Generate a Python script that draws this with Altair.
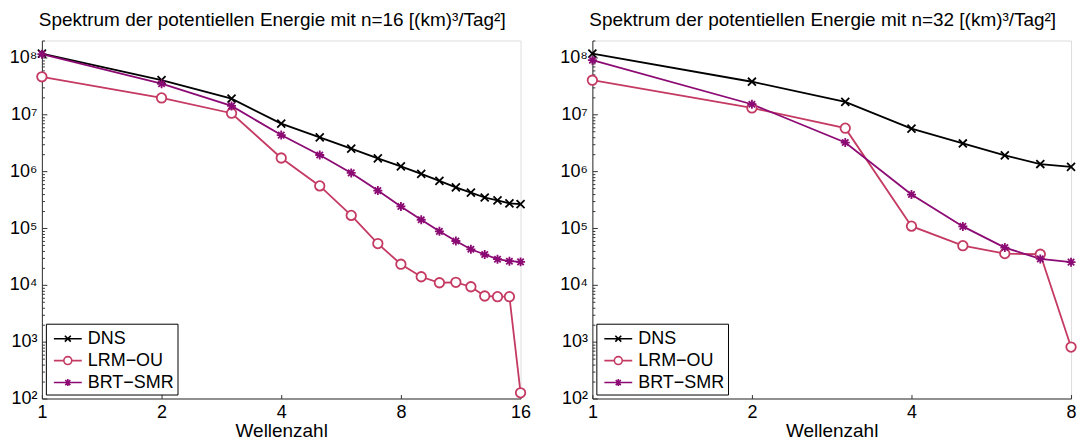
import altair as alt
import pandas as pd

# ---------------- data ----------------
series_names = ["DNS", "LRM−OU", "BRT−SMR"]
series_colors = ["#000000", "#c43a62", "#8c0a73"]

k16 = list(range(1, 17))
dns16 = [1.18e8, 4.0e7, 1.9e7, 6.9e6, 3.93e6, 2.5e6, 1.68e6, 1.22e6,
         8.97e5, 6.76e5, 5.2e5, 4.2e5, 3.45e5, 3.06e5, 2.71e5, 2.63e5]
lrm16 = [4.6e7, 1.95e7, 1.05e7, 1.71e6, 5.52e5, 1.67e5, 5.33e4, 2.31e4,
         1.39e4, 1.09e4, 1.11e4, 9.27e3, 6.37e3, 6.2e3, 6.2e3, 1.26e2]
brt16 = [1.15e8, 3.47e7, 1.41e7, 4.33e6, 1.93e6, 9.34e5, 4.57e5, 2.4e5,
         1.40e5, 8.75e4, 5.92e4, 4.23e4, 3.42e4, 2.83e4, 2.61e4, 2.54e4]

k32 = list(range(1, 9))
dns32 = [1.18e8, 3.76e7, 1.66e7, 5.64e6, 3.08e6, 1.90e6, 1.34e6, 1.19e6]
lrm32 = [4.0e7, 1.30e7, 5.73e6, 1.08e5, 4.9e4, 3.55e4, 3.46e4, 8.04e2]
brt32 = [9.0e7, 1.51e7, 3.2e6, 3.89e5, 1.07e5, 4.54e4, 2.86e4, 2.51e4]

title16 = "Spektrum der potentiellen Energie mit n=16 [(km)³/Tag²]"
title32 = "Spektrum der potentiellen Energie mit n=32 [(km)³/Tag²]"
xticks16 = [1, 2, 4, 8, 16]
xticks32 = [1, 2, 4, 8]
ymajor = [1e2, 1e3, 1e4, 1e5, 1e6, 1e7, 1e8]
yminor = [m * 10 ** e for e in range(2, 9) for m in range(2, 10) if m * 10 ** e <= 2e8]

# marker shapes (unit square, scaled by the library)
marker_paths = [
    "M-0.8,-0.8L0.8,0.8M-0.8,0.8L0.8,-0.8",
    "M-0.95,0A0.95,0.95,0,1,0,0.95,0A0.95,0.95,0,1,0,-0.95,0Z",
    "M0,-0.9L0,0.9M-0.9,0L0.9,0M-0.64,-0.64L0.64,0.64M-0.64,0.64L0.64,-0.64",
]
legend_paths = [
    "M-1.27,0L1.27,0M-0.27,-0.27L0.27,0.27M-0.27,0.27L0.27,-0.27",
    "M-1.27,0L-0.36,0M0.36,0L1.27,0M-0.36,0A0.36,0.36,0,1,0,0.36,0A0.36,0.36,0,1,0,-0.36,0",
    "M-1.27,0L1.27,0M0,-0.32L0,0.32M-0.32,0L0.32,0M-0.23,-0.23L0.23,0.23M-0.23,0.23L0.23,-0.23",
]

FONT = "Liberation Sans"
AXC = "#333333"
sup_expr = ("'10' + ['⁰','¹','²','³','⁴','⁵','⁶','⁷','⁸','⁹']"
            "[round(log(datum.value)/LN10)]")
legend_stroke_expr = ("datum.value == '%s' ? '%s' : datum.value == '%s' ? '%s' : '%s'"
                      % (series_names[0], series_colors[0], series_names[1],
                         series_colors[1], series_colors[2]))


def panel(ks, dns, lrm, brt, title, xmax, xticks):
    rows = []
    for i, (name, vals) in enumerate(zip(series_names, [dns, lrm, brt])):
        for k, v in zip(ks, vals):
            rows.append({"k": k, "E": v, "series": name, "s": i})
    df = pd.DataFrame(rows)

    xscale = alt.Scale(type="log", base=2, domain=[1, xmax], nice=False)
    yscale = alt.Scale(type="log", domain=[100, 2e8], nice=False)
    cscale = alt.Scale(domain=series_names, range=series_colors)

    base = alt.Chart(df)

    lines = base.mark_line(strokeWidth=1.8).encode(
        x=alt.X("k:Q", scale=xscale,
                axis=alt.Axis(orient="bottom", values=xticks, format="d",
                              title="Wellenzahl", ticks=False, grid=False,
                              domainColor=AXC, labelFontSize=18, labelColor="black",
                              labelPadding=5, titleFontSize=19, titleFontWeight="normal",
                              titleColor="black", titlePadding=0, labelFont=FONT,
                              titleFont=FONT, labelFlush=False)),
        y=alt.Y("E:Q", scale=yscale,
                axis=alt.Axis(orient="left", values=ymajor, labelExpr=sup_expr,
                              title=None, ticks=False, grid=False, domainColor=AXC,
                              labelFontSize=18, labelColor="black", labelPadding=5,
                              labelFont=FONT, labelFlush=False)),
        color=alt.Color("series:N", scale=cscale, legend=None),
        order="k:Q",
    )

    points = base.mark_point(filled=False, fill="white", fillOpacity=1,
                             size=100, strokeWidth=1.8, opacity=1).encode(
        x=alt.X("k:Q", scale=xscale,
                axis=alt.Axis(orient="bottom", values=xticks, labels=False, domain=False,
                              grid=False, title=None, offset=-4, tickSize=4,
                              tickColor=AXC)),
        y=alt.Y("E:Q", scale=yscale,
                axis=alt.Axis(orient="left", values=ymajor, labels=False, domain=False,
                              grid=False, title=None, offset=-5, tickSize=5,
                              tickColor=AXC)),
        color=alt.Color("series:N", scale=cscale, legend=None),
        shape=alt.Shape("series:N",
                        scale=alt.Scale(domain=series_names, range=marker_paths),
                        legend=None),
    )

    leg = dict(title=None, orient="bottom-left", offset=4, strokeColor="black",
               fillColor="white", padding=3, rowPadding=1, labelFontSize=18,
               labelFont=FONT, labelColor="black", labelOffset=8, symbolSize=484,
               symbolStrokeWidth=1.6, symbolOffset=7, cornerRadius=0,
               labelLimit=300, symbolOpacity=1,
               symbolStrokeColor=alt.ExprRef(expr=legend_stroke_expr),
               symbolFillColor="transparent")

    legend_layer = base.transform_filter("datum.k < 0").mark_point(
        filled=False, size=484, strokeWidth=1.6, opacity=1).encode(
        x=alt.X("k:Q", scale=xscale, axis=None),
        y=alt.Y("E:Q", scale=yscale,
                axis=alt.Axis(orient="left", values=yminor, labels=False, domain=False,
                              grid=False, title=None, offset=-2.5, tickSize=2.5,
                              tickColor=AXC)),
        shape=alt.Shape("series:N",
                        scale=alt.Scale(domain=series_names, range=legend_paths),
                        legend=alt.Legend(**leg)),
    )

    return alt.layer(lines, points, legend_layer).resolve_axis(
        x="independent", y="independent"
    ).resolve_scale(shape="independent").properties(
        width=480, height=359,
        title=alt.TitleParams(title, fontSize=19, font=FONT, fontWeight="normal",
                              color="black", anchor="middle", offset=10, dx=-9),
    )


left = panel(k16, dns16, lrm16, brt16, title16, 16, xticks16)
right = panel(k32, dns32, lrm32, brt32, title32, 8, xticks32)

chart = alt.hconcat(left, right, spacing=72, bounds="flush").resolve_scale(
    color="independent", shape="independent"
).resolve_legend(color="independent", shape="independent").configure_view(
    stroke=None
).configure(font=FONT, background="white").properties(
    padding={"left": 8, "top": 10, "right": 5, "bottom": 2}
)

chart.save("out.html", embed_options={"renderer": "svg", "actions": False})
